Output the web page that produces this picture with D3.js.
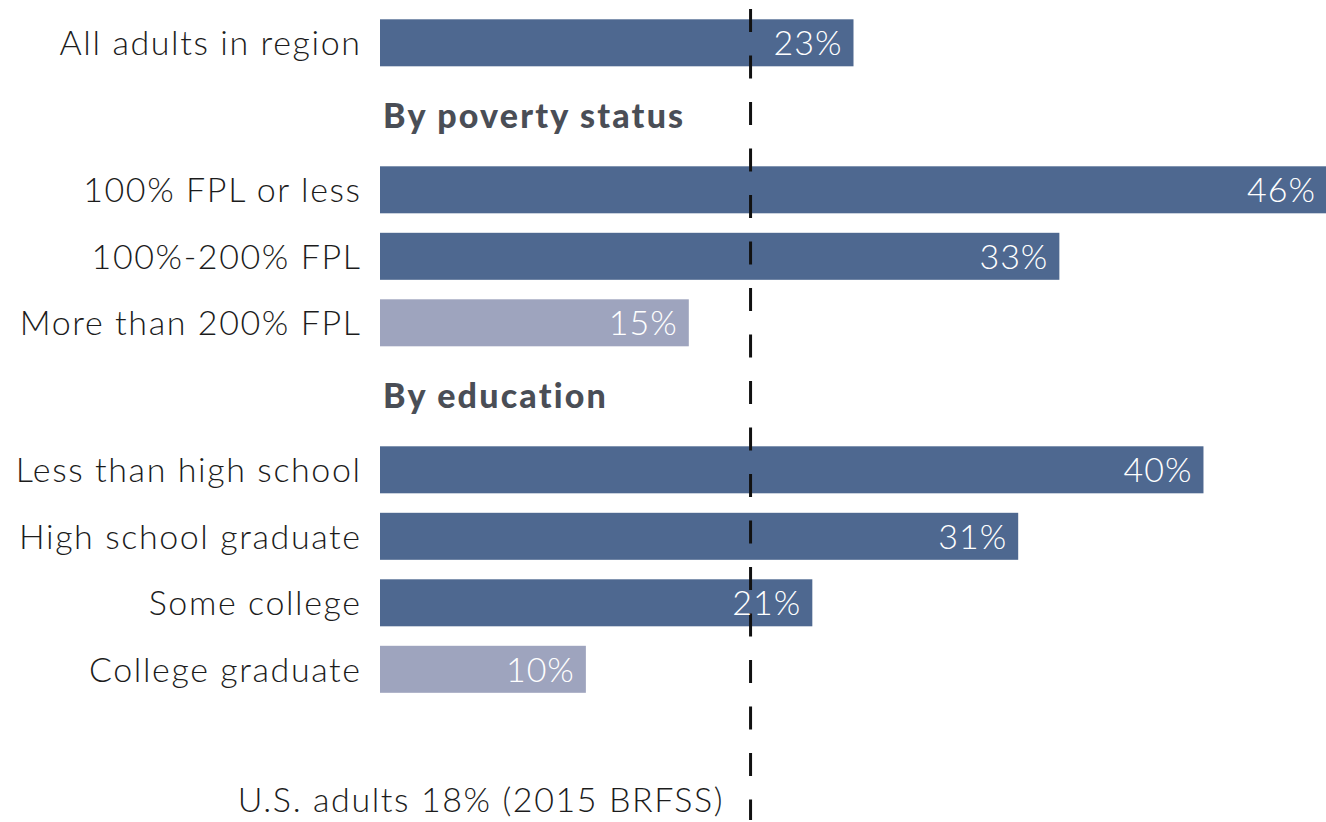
<!DOCTYPE html>
<html>
<head>
<meta charset="utf-8">
<script src="https://cdn.jsdelivr.net/npm/d3@7"></script>
<style>
  html, body { margin: 0; padding: 0; background: #fff; }
  svg { display: block; }
</style>
</head>
<body>
<svg id="chart" width="1326" height="822"></svg>
<script>
// ---- Data ----
const categories = [
  "All adults in region",
  "100% FPL or less",
  "100%-200% FPL",
  "More than 200% FPL",
  "Less than high school",
  "High school graduate",
  "Some college",
  "College graduate"
];
const values = [23, 46, 33, 15, 40, 31, 21, 10];
const groupIndex = [0, 1, 1, 1, 2, 2, 2, 2];
const groupTitles = [null, "By poverty status", "By education"];
const benchmarkValue = 18;
const benchmarkLabel = "U.S. adults 18% (2015 BRFSS)";

// ---- Layout ----
const svg = d3.select("#chart");
const barStart = 380;
const x = d3.scaleLinear().domain([0, 46]).range([barStart, 1327]);

const barH = 47;
const rowStep = 66.5;
const headerBefore = 72.7;
const headerAfter = 147 - 72.7;
const firstCenter = 42.8;

const rows = [];
let yc = firstCenter;
let prevGroup = groupIndex[0];
categories.forEach((c, i) => {
  if (i > 0) {
    if (groupIndex[i] !== prevGroup) {
      const hy = yc + headerBefore;
      rows.push({type: "header", text: groupTitles[groupIndex[i]], y: hy});
      yc = hy + headerAfter;
    } else {
      yc += rowStep;
    }
  }
  rows.push({type: "bar", label: c, value: values[i], y: yc});
  prevGroup = groupIndex[i];
});

const darkColor = "#4e6890";
const lightColor = "#9ea4be";
const font = "Lato, 'Open Sans', sans-serif";
const ls = 1.6;

const bars = rows.filter(r => r.type === "bar");
const headers = rows.filter(r => r.type === "header");

// bars
svg.append("g").selectAll("rect").data(bars).join("rect")
  .attr("x", x(0))
  .attr("y", d => d.y - barH / 2)
  .attr("width", d => x(d.value) - x(0))
  .attr("height", barH)
  .attr("fill", d => d.value < benchmarkValue ? lightColor : darkColor);

// category labels
svg.append("g").selectAll("text").data(bars).join("text")
  .attr("x", x(0) - 20 + ls)
  .attr("y", d => d.y)
  .attr("dy", "0.36em")
  .attr("text-anchor", "end")
  .attr("font-family", font)
  .attr("font-weight", 300)
  .attr("font-size", 34)
  .attr("letter-spacing", ls)
  .attr("fill", "#1c1c1c")
  .text(d => d.label);

// headers
svg.append("g").selectAll("text").data(headers).join("text")
  .attr("x", x(0) + 3)
  .attr("y", d => d.y)
  .attr("dy", "0.36em")
  .attr("font-family", font)
  .attr("font-weight", 900)
  .attr("font-size", 34)
  .attr("letter-spacing", 2.2)
  .attr("fill", "#4a4e56")
  .text(d => d.text);

// benchmark dashed line
svg.append("line")
  .attr("x1", x(benchmarkValue)).attr("x2", x(benchmarkValue))
  .attr("y1", 9).attr("y2", 820)
  .attr("stroke", "#111")
  .attr("stroke-width", 3)
  .attr("stroke-dasharray", "23,23.5");

// value labels
svg.append("g").selectAll("text").data(bars).join("text")
  .attr("x", d => x(d.value) - 12 + 1)
  .attr("y", d => d.y)
  .attr("dy", "0.36em")
  .attr("text-anchor", "end")
  .attr("font-family", font)
  .attr("font-weight", 300)
  .attr("font-size", 34)
  .attr("letter-spacing", 1)
  .attr("fill", "#fff")
  .text(d => d.value + "%");

// benchmark label
svg.append("text")
  .attr("x", x(benchmarkValue) - 28 + ls)
  .attr("y", 800)
  .attr("dy", "0.36em")
  .attr("text-anchor", "end")
  .attr("font-family", font)
  .attr("font-weight", 300)
  .attr("font-size", 34)
  .attr("letter-spacing", ls)
  .attr("fill", "#1c1c1c")
  .text(benchmarkLabel);
</script>
</body>
</html>
